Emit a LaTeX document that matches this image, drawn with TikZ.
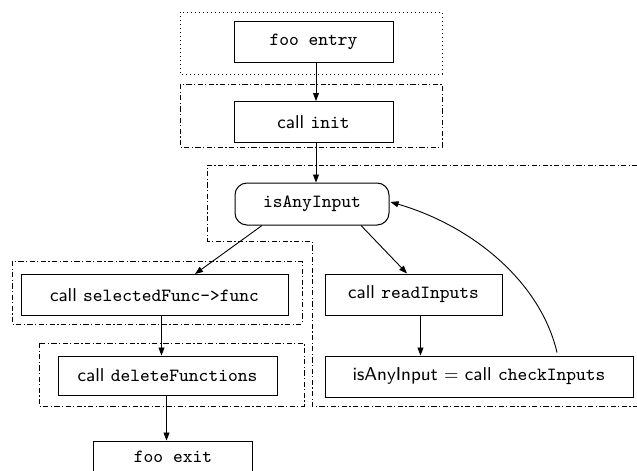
\documentclass[tikz,border=0pt]{standalone}
\usepackage{fontspec}
\usetikzlibrary{arrows.meta,calc}

\tikzset{
  blk/.style={draw, line width=0.5pt, minimum height=20.5pt, inner sep=0pt,
    font=\fontsize{9.3}{11}\selectfont},
  rblk/.style={blk, rounded corners=6pt},
  flow/.style={line width=0.45pt, -{Triangle[length=4pt,width=3pt]}},
  dotgroup/.style={line width=0.45pt, dash pattern=on 0.6pt off 1.4pt},
  dashdotgroup/.style={line width=0.45pt, dash pattern=on 2.6pt off 1.2pt on 0.6pt off 1.2pt},
}
\newcommand{\kw}[1]{\textsf{#1}}

\begin{document}
\begin{tikzpicture}[x=0.5pt,y=-0.5pt]
  \useasboundingbox (0,0) rectangle (637,471);
  \clip (0,0) rectangle (637,471);

  % group frames
  \draw[dotgroup] (180,12) rectangle (442,74);
  \draw[dashdotgroup] (180,84) rectangle (442,147);
  \draw[dashdotgroup] (660,165) -- (207,165) -- (207,241) -- (312,241)
     -- (312,406) -- (660,406);
  \draw[dashdotgroup] (12,261) rectangle (302,324);
  \draw[dashdotgroup] (39,343) rectangle (304,406);

  % blocks
  \node[blk, minimum width=79.5pt] (entry) at (313.5,41.5) {\texttt{foo entry}};
  \node[blk, minimum width=79.5pt] (init) at (313.5,122) {\kw{call} \texttt{init}};
  \node[rblk, minimum width=77pt, minimum height=21pt] (isany) at (312,204) {\texttt{isAnyInput}};
  \node[blk, minimum width=133.5pt] (sel) at (154.5,295) {\kw{call} \texttt{selectedFunc->func}};
  \node[blk, minimum width=109.5pt, minimum height=19.5pt] (del) at (167.5,375.5) {\kw{call} \texttt{deleteFunctions}};
  \node[blk, minimum width=88.5pt] (read) at (413.5,294.5) {\kw{call} \texttt{readInputs}};
  \node[blk, minimum width=154pt] (check) at (479,376.5) {\kw{isAnyInput} $=$ \kw{call} \texttt{checkInputs}};
  \node[blk, minimum width=79.5pt, minimum height=0pt, text height=10.5pt, text depth=10pt,
        anchor=base] (exit) at (173,462) {\texttt{foo exit}};

  % x positions of the vertical connectors
  \coordinate (xa) at (316,0);
  \coordinate (xb) at (161.5,0);
  \coordinate (xc) at (166.5,0);
  \coordinate (xd) at (420.5,0);

  % connectors
  \draw[flow] (entry.south -| xa) -- (init.north -| xa);
  \draw[flow] (init.south -| xa) -- (isany.north -| xa);
  \draw[flow] ($(isany.south)+(-50,0)$) -- ($(sel.north)+(40.5,0)$);
  \draw[flow] ($(isany.south)+(49,0)$) -- ($(read.north)+(-6.5,0)$);
  \draw[flow] (sel.south -| xb) -- (del.north -| xb);
  \draw[flow] (del.south -| xc) -- (exit.north -| xc);
  \draw[flow] (read.south -| xd) -- (check.north -| xd);
  \draw[flow] ($(check.north)+(78,-3)$) .. controls (540,280) and (470,225) .. ($(isany.east)+(1,-2)$);
\end{tikzpicture}
\end{document}
